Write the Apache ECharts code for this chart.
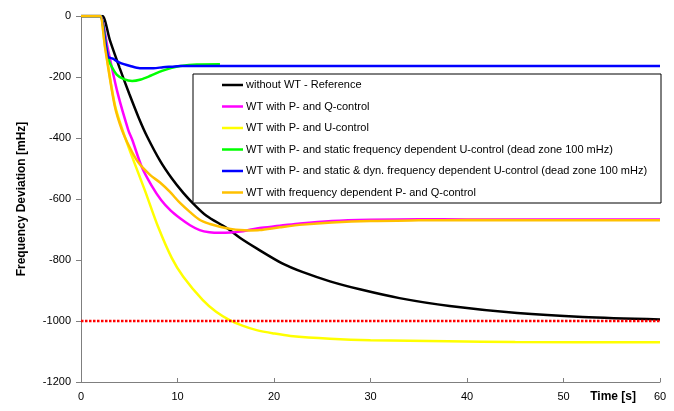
<!DOCTYPE html>
<html>
<head>
<meta charset="utf-8">
<script src="https://cdn.jsdelivr.net/npm/echarts@6/dist/echarts.min.js"></script>
<style>
html,body{margin:0;padding:0;background:#fff;}
#chart{width:674px;height:411px;}
</style>
</head>
<body>
<div id="chart"></div>
<script>
// ---- data (time [s], frequency deviation [mHz]) ----
var seriesNames = [
  'without WT - Reference',
  'WT with P- and Q-control',
  'WT with P- and U-control',
  'WT with P- and static frequency dependent U-control (dead zone 100 mHz)',
  'WT with P- and static & dyn. frequency dependent U-control (dead zone 100 mHz)',
  'WT with frequency dependent P- and Q-control'
];
var xTicks = [0, 10, 20, 30, 40, 50, 60];
var yTicks = [0, -200, -400, -600, -800, -1000, -1200];

var reference = [[0,0],[1.8,0],[2.2,0],[3,-80],[4,-170],[5,-255],[6,-335],[6.85,-395],[8.2,-475],[9.4,-532],[10.6,-580],[11.6,-614],[13,-655],[15.1,-695],[16.5,-728],[18.2,-762],[20.9,-812],[23,-840],[25.8,-870],[29,-897],[33,-925],[38.2,-951],[45.2,-974],[52,-987],[60,-995]];
var pqControl = [[0,0],[1.8,0],[2,0],[2.8,-111],[3.8,-253],[4.9,-374],[5.3,-405],[6.3,-495],[7.3,-555],[8.3,-603],[9.3,-638],[10.3,-664],[11.3,-686],[12.3,-702],[13.3,-709],[14.4,-711],[15.5,-710],[16.5,-707],[17.5,-701],[18.5,-695],[20.6,-688],[22.7,-680],[26,-672],[30,-668],[35,-666],[40,-667],[60,-667]];
var puControl = [[0,0],[1.8,0],[2,0],[2.5,-100],[3.5,-290],[4.35,-378],[5.3,-462],[6.6,-570],[8,-692],[9.4,-793],[10.6,-855],[12.6,-931],[14,-970],[15.4,-997],[16.8,-1016],[18.2,-1030],[20,-1041],[21.7,-1049],[25.8,-1058],[30,-1063],[38,-1066],[45,-1069],[60,-1070]];
var staticU = [[0,0],[1.8,0],[2,0],[2.8,-134],[3.0,-155],[3.7,-192],[4.5,-208],[5.3,-213],[6.2,-208],[7.2,-196],[8.4,-180],[9.4,-170],[10.3,-164],[12,-159],[14.4,-158]];
var dynU = [[0,0],[1.8,0],[2,0],[2.8,-133],[3.3,-140],[4.0,-153],[5.1,-164],[6.1,-171],[7.5,-171],[8.5,-168],[9.4,-166],[10.3,-164],[13.7,-164],[20,-164],[60,-164]];
var fdPQ = [[0,0],[1.8,0],[2,0],[2.5,-105],[3.5,-295],[4.25,-374],[5.08,-433],[5.91,-479],[7.15,-521],[8.19,-546],[9.22,-577],[10.26,-613],[11.3,-643],[12.33,-669],[13.37,-682],[14.4,-691],[15.5,-698],[16.5,-702],[17.5,-703],[18.5,-702],[20.6,-693],[23,-684],[26,-677],[30,-672],[35,-670],[40,-669],[60,-670]];
var limitLine = [[0,-1000],[60,-1000]];

var colors = ['#000000', '#ff00ff', '#ffff00', '#00ff00', '#0000ff', '#ffc000'];
var dataSets = [reference, pqControl, puControl, staticU, dynU, fdPQ];

var FONT = 'Liberation Sans, Arial, sans-serif';

var series = dataSets.map(function (d, i) {
  return {
    name: seriesNames[i],
    type: 'line',
    data: d,
    symbol: 'none',
    smooth: 0.3,
    lineStyle: { color: colors[i], width: 2.5 },
    itemStyle: { color: colors[i] },
    z: 2 + i * 0.1
  };
});
series.splice(3, 0, {
  name: 'limit',
  type: 'line',
  data: limitLine,
  symbol: 'none',
  lineStyle: { color: '#ff0000', width: 2.5, type: [2.5, 1.5] },
  z: 2.25
});

var chart = echarts.init(document.getElementById('chart'), null, { renderer: 'canvas' });
chart.setOption({
  animation: false,
  backgroundColor: '#ffffff',
  grid: { left: 81, right: 14, top: 16, bottom: 29 },
  xAxis: {
    type: 'value',
    min: xTicks[0], max: xTicks[xTicks.length - 1], interval: 10,
    axisLine: { onZero: false, lineStyle: { color: '#7f7f7f', width: 1 } },
    axisTick: { show: true, inside: true, length: 4, lineStyle: { color: '#7f7f7f' } },
    axisLabel: { color: '#000', fontFamily: FONT, fontSize: 11, margin: 9 },
    splitLine: { show: false }
  },
  yAxis: {
    type: 'value',
    min: yTicks[yTicks.length - 1], max: yTicks[0], interval: 200,
    axisLine: { show: true, onZero: false, lineStyle: { color: '#7f7f7f', width: 1 } },
    axisTick: { show: true, inside: false, length: 5, lineStyle: { color: '#7f7f7f' } },
    axisLabel: { color: '#000', fontFamily: FONT, fontSize: 11, margin: 10,
                 formatter: function (v) { return String(v); } },
    splitLine: { show: false },
    name: 'Frequency Deviation [mHz]',
    nameLocation: 'middle',
    nameGap: 53,
    nameTextStyle: { color: '#000', fontFamily: FONT, fontSize: 12, fontWeight: 'bold' }
  },
  legend: {
    data: seriesNames.map(function (n) { return { name: n, icon: 'rect' }; }),
    orient: 'vertical',
    left: 222,
    top: 78,
    padding: 0,
    itemGap: 7.5,
    itemWidth: 21,
    itemHeight: 2.5,
    textStyle: { color: '#000', fontFamily: FONT, fontSize: 11, lineHeight: 14, height: 14, padding: [0, 0, 0, -2] },
    z: 10
  },
  graphic: [
    {
      type: 'rect',
      shape: { x: 193, y: 74, width: 468, height: 129 },
      style: { fill: '#ffffff', stroke: '#000000', lineWidth: 1 },
      z: 5
    },
    {
      type: 'text',
      style: { text: 'Time [s]', x: 636, y: 397, textAlign: 'right', textVerticalAlign: 'middle',
               font: 'bold 12px ' + FONT, fill: '#000' },
      z: 5
    }
  ],
  series: series
});
</script>
</body>
</html>
